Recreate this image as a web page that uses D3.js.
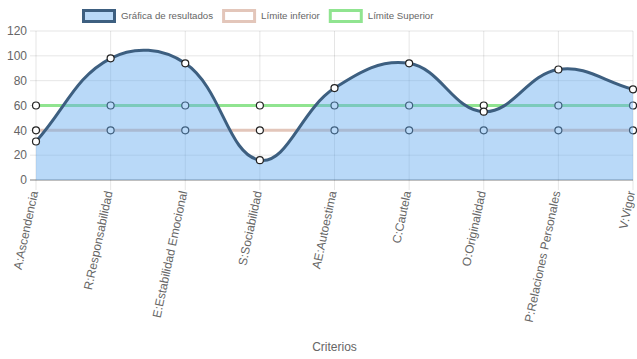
<!DOCTYPE html>
<html><head><meta charset="utf-8">
<script src="https://cdn.jsdelivr.net/npm/d3@7"></script>
<style>body{margin:0;background:#fff}svg{display:block;font-family:"Liberation Sans",Arial,Helvetica,sans-serif}</style>
</head><body>
<svg id="c" width="637" height="359"></svg>
<script>
const categories = ["A:Ascendencia","R:Responsabilidad","E:Estabilidad Emocional","S:Sociabilidad","AE:Autoestima","C:Cautela","O:Originalidad","P:Relaciones Personales","V:Vigor"];
const resultados = [31, 98, 94, 16, 74, 94, 55, 89, 73];
const limiteInferior = [40, 40, 40, 40, 40, 40, 40, 40, 40];
const limiteSuperior = [60, 60, 60, 60, 60, 60, 60, 60, 60];
const yTicks = [0, 20, 40, 60, 80, 100, 120];
const legendLabels = ["Gráfica de resultados", "Límite inferior", "Límite Superior"];
const axisTitle = "Criterios";

const svg = d3.select("#c");
const L = 36, R = 633, T = 31, B = 180;
const x = d3.scalePoint().domain(categories).range([L, R]);
const y = d3.scaleLinear().domain([0, 120]).range([B, T]);
const grey = "#666";

// grid
const g = svg.append("g");
yTicks.forEach(t => {
  g.append("line").attr("x1", L - 6).attr("x2", R).attr("y1", y(t)).attr("y2", y(t))
    .attr("stroke", t === 0 ? "rgba(0,0,0,0.25)" : "rgba(0,0,0,0.1)").attr("stroke-width", t === 0 ? 2 : 1);
  g.append("text").attr("x", L - 9).attr("y", y(t)).attr("dy", "0.35em").attr("text-anchor", "end")
    .attr("font-size", 12).attr("fill", grey).text(t);
});
categories.forEach(c => {
  g.append("line").attr("x1", x(c)).attr("x2", x(c)).attr("y1", T).attr("y2", B + 10)
    .attr("stroke", "rgba(0,0,0,0.1)");
  g.append("text").attr("transform", `translate(${x(c) - 2},${B + 11}) rotate(-78)`)
    .attr("text-anchor", "end").attr("dy", "0.35em").attr("font-size", 12).attr("fill", grey).text(c);
});
g.append("text").attr("x", (L + R) / 2).attr("y", 351).attr("text-anchor", "middle")
  .attr("font-size", 12).attr("fill", grey).text(axisTitle);

// Chart.js style spline
function splinePath(vals, close) {
  const pts = vals.map((v, i) => [x(categories[i]), y(v)]);
  const t = 0.4, n = pts.length, cps = [];
  for (let i = 0; i < n; i++) {
    const p = pts[Math.max(0, i - 1)], c = pts[i], nx = pts[Math.min(n - 1, i + 1)];
    const d01 = Math.hypot(c[0] - p[0], c[1] - p[1]);
    const d12 = Math.hypot(nx[0] - c[0], nx[1] - c[1]);
    let s01 = d01 / (d01 + d12), s12 = d12 / (d01 + d12);
    if (isNaN(s01)) s01 = 0; if (isNaN(s12)) s12 = 0;
    const fa = t * s01, fb = t * s12;
    cps.push({prev: [c[0] - fa * (nx[0] - p[0]), c[1] - fa * (nx[1] - p[1])],
              next: [c[0] + fb * (nx[0] - p[0]), c[1] + fb * (nx[1] - p[1])]});
  }
  const path = d3.path();
  path.moveTo(pts[0][0], pts[0][1]);
  for (let i = 1; i < n; i++) {
    path.bezierCurveTo(cps[i - 1].next[0], cps[i - 1].next[1], cps[i].prev[0], cps[i].prev[1], pts[i][0], pts[i][1]);
  }
  if (close) { path.lineTo(pts[n - 1][0], y(0)); path.lineTo(pts[0][0], y(0)); path.closePath(); }
  return path.toString();
}

const lineGen = d3.line().x((d, i) => x(categories[i])).y(d => y(d));
const series = [
  {vals: limiteSuperior, stroke: "#90e490"},
  {vals: limiteInferior, stroke: "#e3c6ba"}
];
series.forEach(s => {
  svg.append("path").attr("d", lineGen(s.vals)).attr("fill", "none").attr("stroke", s.stroke).attr("stroke-width", 3);
  s.vals.forEach((v, i) => svg.append("circle").attr("cx", x(categories[i])).attr("cy", y(v)).attr("r", 3.5)
    .attr("fill", "#fff").attr("stroke", "#222").attr("stroke-width", 1.2));
});

svg.append("path").attr("d", splinePath(resultados, true)).attr("fill", "rgba(100,170,240,0.45)");
svg.append("path").attr("d", splinePath(resultados, false)).attr("fill", "none").attr("stroke", "#3d5f80").attr("stroke-width", 3);
resultados.forEach((v, i) => svg.append("circle").attr("cx", x(categories[i])).attr("cy", y(v)).attr("r", 3.5)
  .attr("fill", "#fff").attr("stroke", "#222").attr("stroke-width", 1.2));

// legend
const legendStyles = [
  {fill: "#b9d9f8", stroke: "#3d5f80"},
  {fill: "#fff", stroke: "#e3c6ba"},
  {fill: "#fff", stroke: "#90e490"}
];
const lg = svg.append("g");
const fs = 9.7;
const tmp = lg.append("text").attr("font-size", fs);
const widths = legendLabels.map(l => { tmp.text(l); return tmp.node().getComputedTextLength(); });
tmp.remove();
const boxW = 34, gap = 5, itemGap = 9;
let lx = 82;
legendLabels.forEach((l, i) => {
  lg.append("rect").attr("x", lx + 1.5).attr("y", 10.5).attr("width", boxW - 3).attr("height", 11)
    .attr("fill", legendStyles[i].fill).attr("stroke", legendStyles[i].stroke).attr("stroke-width", 3);
  lg.append("text").attr("x", lx + boxW + gap).attr("y", 15.5).attr("dy", "0.35em").attr("font-size", fs)
    .attr("fill", grey).text(l);
  lx += boxW + gap + widths[i] + itemGap;
});
</script>
</body></html>
